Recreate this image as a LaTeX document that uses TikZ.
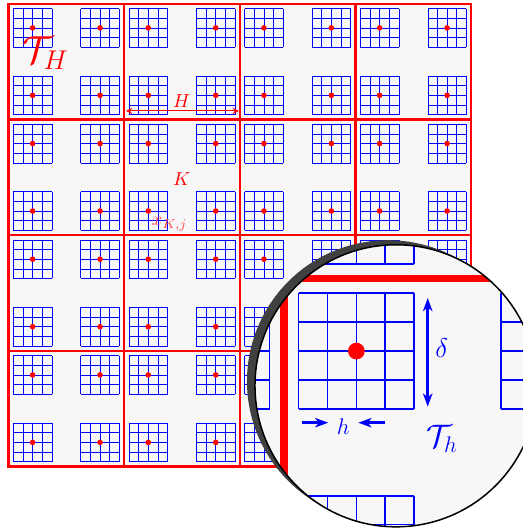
\documentclass[tikz,border=0pt]{standalone}
\usetikzlibrary{spy,arrows.meta}
\tikzset{
  coarse/.style={draw=red,line width=1.3pt},
  fine/.style={draw=blue,line width=0.3pt},
  nodept/.style={fill=red},
  zoomarrow/.style={draw=blue,line width=1.3pt,>={Stealth[length=7pt,width=5pt,inset=2pt]}},
  finepatch/.pic={
    \foreach \k in {0,...,4} {
      \draw[fine] (\k,0) -- (\k,4);
      \draw[fine] (0,\k) -- (4,\k);
    }
    \fill[nodept] (2,2) circle (0.29);
  }
}
\begin{document}
\begin{tikzpicture}[x=0.18cm,y=0.18cm]
\useasboundingbox (-0.88,-6.59) rectangle (53.37,48.39);
\coordinate (spot) at (27.87,20.3);
\coordinate (lens) at (40.2,8.37);
% coarse mesh T_H, every cell with four fine patches
\begin{scope}[spy scope={circle,magnification=3,size=5.267cm}]
\fill[black!3] (0,0) rectangle (48,48);
\foreach \i in {0,...,3}
  \foreach \j in {0,...,3}
    \foreach \a in {0.5,7.5}
      \foreach \b in {0.5,7.5}
        \pic at (12*\i+\a,12*\j+\b) {finepatch};
\draw[coarse] (0,0) rectangle (48,48);
\foreach \k in {12,24,36} {
  \draw[coarse] (\k,0) -- (\k,48);
  \draw[coarse] (0,\k) -- (48,\k);
}
\spy on (spot) in node at (lens);
\end{scope}
% labels of the coarse mesh
\node[red,font=\fontsize{22}{26}\selectfont] (TH) at (3.84,42.9) {$\mathcal{T}_H$};
\coordinate (Hl) at (12.19,36.88);
\coordinate (Hr) at (23.9,36.88);
\draw[red,line width=0.5pt,<->,>=stealth] (Hl) -- (Hr);
\node[red] (Hlab) at (17.97,37.95) {$H$};
\node[red] (Klab) at (17.97,29.82) {$K$};
\node[red!70,anchor=base west,inner sep=0pt] (xKj) at (14.8,24.95) {$x_{K,j}$};
% rim of the lens
\fill[black!75] ([shift={(62.35:14.63)}]lens) arc[start angle=58.61,end angle=242.35,radius=14.63]
  arc[start angle=238.61,end angle=62.35,radius=14.63] -- cycle;
\draw[line width=0.8pt] (lens) circle (14.63);
% labels of the fine mesh T_h
\coordinate (dtop) at (43.49,17.48);
\coordinate (dbot) at (43.49,6.2);
\draw[zoomarrow,<->] (dtop) -- (dbot);
\node[blue,font=\Large] (delta) at (44.94,12.26) {$\delta$};
\coordinate (hl0) at (30.41,4.54);
\coordinate (hl1) at (33.17,4.54);
\coordinate (hr0) at (39.06,4.54);
\coordinate (hr1) at (36.29,4.54);
\draw[zoomarrow,->] (hl0) -- (hl1);
\draw[zoomarrow,->] (hr0) -- (hr1);
\node[blue,font=\large] (hlab) at (34.73,4.13) {$h$};
\node[blue,font=\LARGE] (Th) at (44.97,2.85) {$\mathcal{T}_h$};
\end{tikzpicture}
\end{document}
